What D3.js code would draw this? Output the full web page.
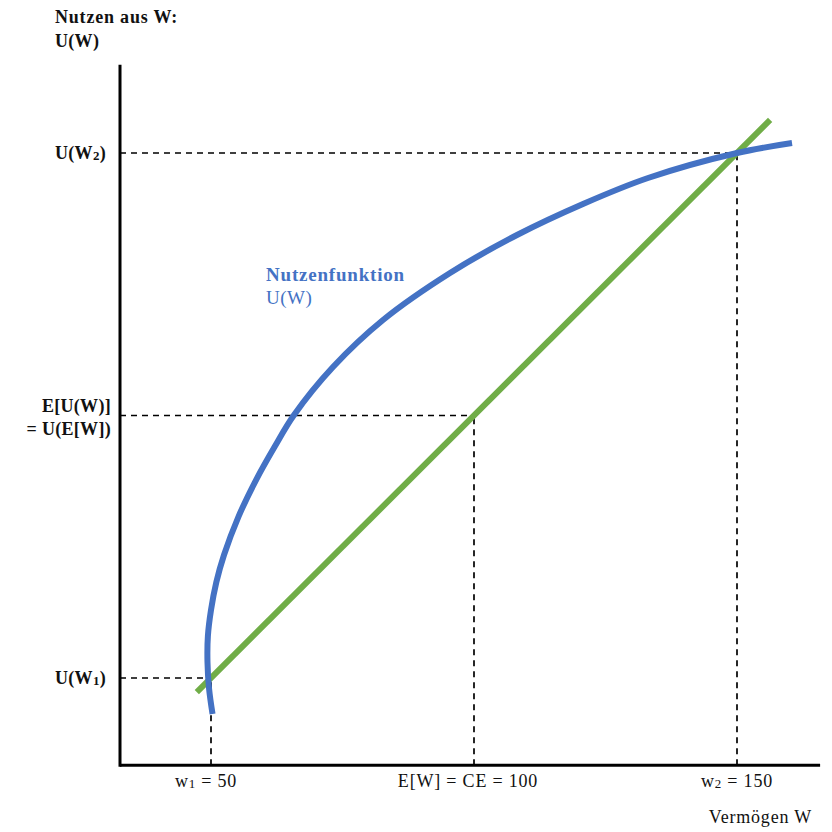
<!DOCTYPE html>
<html><head><meta charset="utf-8">
<script src="https://cdn.jsdelivr.net/npm/d3@7"></script>
<style>body{margin:0;background:#fff}svg{display:block}text{font-family:"Liberation Serif","DejaVu Serif",serif}</style>
</head><body><svg id="c" width="832" height="832"></svg>
<script>
// Data (wealth W, utility U)
const wealthTicks = [50, 100, 150];
const utilityTicks = [50, 100, 150];
const curveW = [50.29, 49.62, 49.33, 49.41, 50.00, 51.01, 52.47, 55.21, 58.56, 62.07, 65.78, 73.19, 82.70, 95.44, 108.17, 120.72, 133.08, 150.00, 160.46];
const curveU = [43.14, 48.10, 53.05, 58.00, 62.95, 68.25, 73.43, 80.70, 87.71, 94.00, 100.10, 109.24, 118.19, 127.14, 134.38, 140.29, 145.24, 150.00, 151.90];
const lineW = [47.3, 156.3];
const lineU = [47.3, 156.3];
const xAxisDomain = [32.7, 165.8];
const yAxisDomain = [33.4, 166.8];

const svg = d3.select("#c");
const x = d3.scaleLinear().domain([50, 150]).range([211, 737]);
const y = d3.scaleLinear().domain([50, 150]).range([678, 153]);

// dashed guides
const dash = svg.append("g").attr("stroke", "#000").attr("stroke-width", 1.7).attr("stroke-dasharray", "6,5").attr("fill", "none");
function guide(w, u, wLeft) {
  dash.append("line").attr("x1", x(xAxisDomain[0])).attr("x2", x(wLeft)).attr("y1", y(u)).attr("y2", y(u));
  dash.append("line").attr("x1", x(w)).attr("x2", x(w)).attr("y1", y(yAxisDomain[0])).attr("y2", y(u));
}
guide(wealthTicks[0], utilityTicks[0], 49.2);
guide(wealthTicks[1], utilityTicks[1], 100);
guide(wealthTicks[2], utilityTicks[2], 150);

// green line
svg.append("path").datum(lineW.map((w, i) => [w, lineU[i]]))
  .attr("d", d3.line().x(d => x(d[0])).y(d => y(d[1])))
  .attr("stroke", "#70AD47").attr("stroke-width", 6).attr("fill", "none");

// blue utility curve
svg.append("path").datum(curveW.map((w, i) => [w, curveU[i]]))
  .attr("d", d3.line().x(d => x(d[0])).y(d => y(d[1])).curve(d3.curveCatmullRom.alpha(0.5)))
  .attr("stroke", "#4472C4").attr("stroke-width", 6).attr("fill", "none");

// axes
svg.append("line").attr("x1", x(xAxisDomain[0])).attr("x2", x(xAxisDomain[0])).attr("y1", y(yAxisDomain[1])).attr("y2", y(yAxisDomain[0]) + 1.5)
  .attr("stroke", "#000").attr("stroke-width", 3);
svg.append("line").attr("x1", x(xAxisDomain[0])).attr("x2", x(xAxisDomain[1])).attr("y1", y(yAxisDomain[0])).attr("y2", y(yAxisDomain[0]))
  .attr("stroke", "#000").attr("stroke-width", 3);

function sub(t, main, s, after) {
  t.append("tspan").text(main);
  t.append("tspan").text(s).attr("font-size", "0.72em").attr("dy", 1);
  if (after) t.append("tspan").text(after).attr("dy", -1);
}

// y labels
const yl = svg.append("g").attr("font-weight", "bold").attr("font-size", 18).attr("fill", "#111").attr("letter-spacing", 0.3);
yl.append("text").attr("x", 55).attr("y", 23).attr("letter-spacing", 0.8).text("Nutzen aus W:");
yl.append("text").attr("x", 55).attr("y", 47).text("U(W)");
sub(yl.append("text").attr("x", 106).attr("y", y(utilityTicks[2]) + 6).attr("text-anchor", "end"), "U(W", "2", ")");
yl.append("text").attr("x", 111).attr("y", y(utilityTicks[1]) - 4).attr("text-anchor", "end").text("E[U(W)]");
yl.append("text").attr("x", 111).attr("y", y(utilityTicks[1]) + 19).attr("text-anchor", "end").text("= U(E[W])");
sub(yl.append("text").attr("x", 106).attr("y", y(utilityTicks[0]) + 6).attr("text-anchor", "end"), "U(W", "1", ")");

// x labels
const xl = svg.append("g").attr("font-size", 18).attr("fill", "#111").attr("text-anchor", "middle").attr("letter-spacing", 0.8);
sub(xl.append("text").attr("x", x(wealthTicks[0]) - 5).attr("y", 787), "w", "1", " = 50");
xl.append("text").attr("x", x(wealthTicks[1]) - 6).attr("y", 787).text("E[W] = CE = 100");
sub(xl.append("text").attr("x", x(wealthTicks[2])).attr("y", 787), "w", "2", " = 150");
xl.append("text").attr("x", 812).attr("y", 823).attr("text-anchor", "end").text("Vermögen W");

// curve label
svg.append("text").attr("x", 266).attr("y", 281).attr("font-size", 19).attr("font-weight", "bold").attr("letter-spacing", 0.8).attr("fill", "#4472C4").text("Nutzenfunktion");
svg.append("text").attr("x", 266).attr("y", 304).attr("font-size", 19).attr("letter-spacing", 0.5).attr("fill", "#4472C4").text("U(W)");
</script></body></html>
